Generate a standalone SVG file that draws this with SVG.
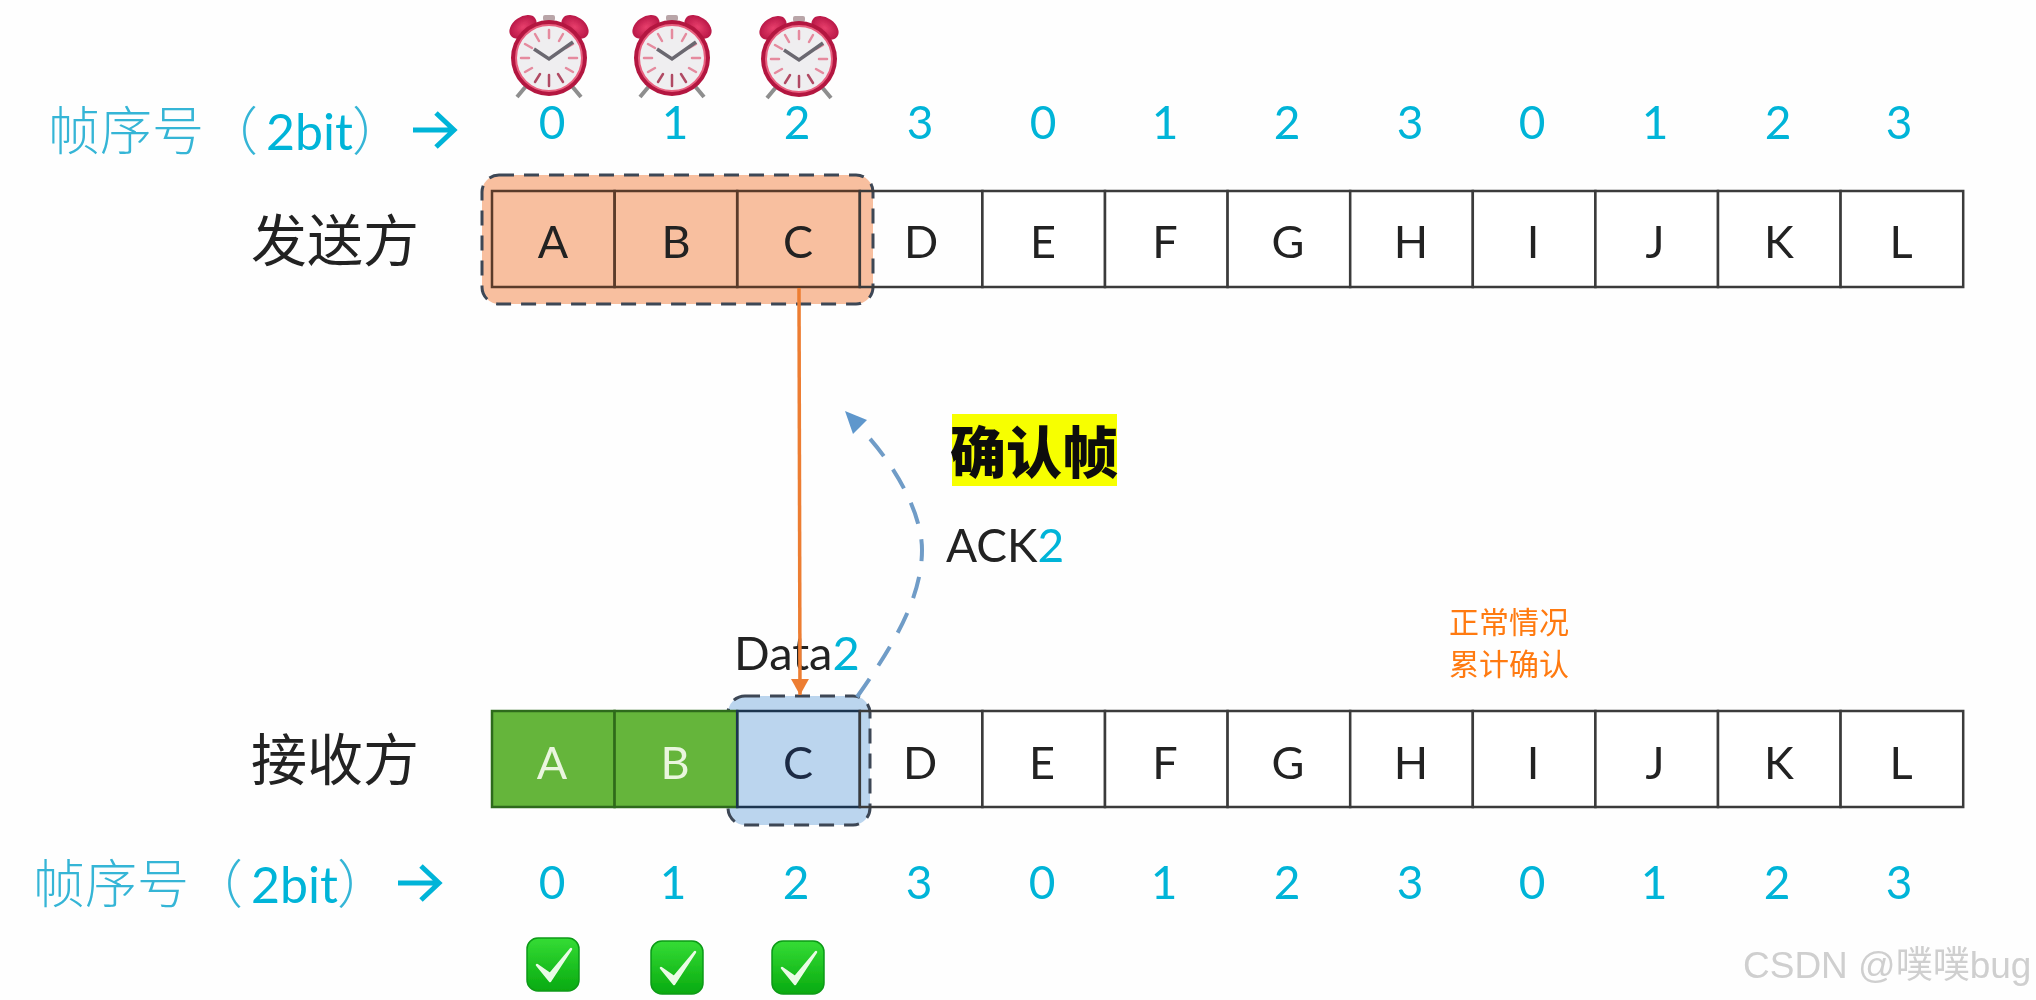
<svg xmlns="http://www.w3.org/2000/svg" xmlns:xlink="http://www.w3.org/1999/xlink" width="2036" height="1000" viewBox="0 0 2036 1000">
<style>
text{font-family:Lato,"Noto Sans CJK SC",sans-serif}
.cell{fill:#fff;stroke:#3a3a3a;stroke-width:2.5}
.clear{fill:none}
.green{fill:#65b53a;stroke:#2f6b1c}
.blue{fill:none;stroke:#1f3450}
.cellNone{fill:none;stroke:#5a3a2a}
.l{font-size:45px;fill:#222;text-anchor:middle}
.w{fill:#eaf6de}
.n{font-size:46px;fill:#00b4d8;text-anchor:middle}
.cjk{font-family:"Noto Sans CJK SC",sans-serif}
.seq{font-size:52px;fill:#35b5d6;font-weight:300}
.bit{font-family:Lato,sans-serif;font-size:50px;font-weight:400;fill:#00b4d8}
.side{font-size:56px;fill:#222}
.win{stroke:#3c4655;stroke-width:3;stroke-dasharray:15 10}
.lab{font-size:47px;fill:#222}
.c2{fill:#00b4d8}
.tick{stroke-width:2.5;stroke-linecap:round}
</style>
<defs>
<filter id="soft" x="-2%" y="-2%" width="104%" height="104%"><feGaussianBlur stdDeviation="0.6"/></filter>
<linearGradient id="gg" x1="0" y1="0" x2="0" y2="1"><stop offset="0" stop-color="#35dc35"/><stop offset="1" stop-color="#08aa10"/></linearGradient>
<radialGradient id="bell" cx=".5" cy=".5" r=".6"><stop offset="0" stop-color="#e83f6c"/><stop offset="1" stop-color="#b01040"/></radialGradient>
<marker id="ah" viewBox="0 0 16 18" refX="16" refY="9" markerWidth="16" markerHeight="18" markerUnits="userSpaceOnUse" orient="auto"><path d="M0 0L16 9L0 18Z" fill="#ed7d31"/></marker>
<g id="clock">
<path d="M-22 27L-32 39M22 27L32 39" stroke="#8e8e8e" stroke-width="4"/>
<rect x="-6" y="-43" width="12" height="6" rx="2" fill="#b9a5a8"/>
<ellipse cx="-26" cy="-31" rx="15" ry="10" transform="rotate(-35 -26 -31)" fill="url(#bell)"/>
<ellipse cx="26" cy="-31" rx="15" ry="10" transform="rotate(35 26 -31)" fill="url(#bell)"/>
<circle r="38" fill="#b3163f"/>
<circle r="33" fill="#efeef0" stroke="#e8607f" stroke-width="2"/>
<g class="tick" stroke="#e58a9e">
<path d="M0 -28V-20M14 -24L10 -17M24 -14L17 -10M28 0H20M24 14L17 10M-14 -24L-10 -17M-24 -14L-17 -10M-28 0H-20M-24 14L-17 10"/>
</g>
<g class="tick" stroke="#b04a63"><path d="M0 28V17M14 24L9 16M-14 24L-9 16"/></g>
<path d="M-15 -9L0 1L24 -16" fill="none" stroke="#6b6770" stroke-width="3.5"/>
</g>
<g id="check">
<rect x="0" y="0" width="52" height="53" rx="11" fill="url(#gg)" stroke="#0a9a18" stroke-width="1.5"/>
<path d="M10 27L23 43L44 11L23 36Z" fill="#eafbe6" stroke="#eafbe6" stroke-width="2.5" stroke-linejoin="round"/>
</g>
</defs>
<rect width="2036" height="1000" fill="#fefefe"/>
<g filter="url(#soft)">
<g id="clocks">
<use href="#clock" x="549" y="58"/>
<use href="#clock" x="672" y="58"/>
<use href="#clock" x="799" y="59"/>
</g>

<g id="sender-seq-label">
<text class="cjk seq" x="48" y="150">帧序号<tspan x="206">（</tspan><tspan class="bit" x="266">2bit</tspan><tspan x="352">）</tspan></text>
<path d="M413 130H453M436 113L454 130L436 147" fill="none" stroke="#00b4d8" stroke-width="5"/>
</g>
<g id="sender-numbers">
<text class="n" x="552" y="139">0</text><text class="n" x="675" y="139">1</text><text class="n" x="797" y="139">2</text><text class="n" x="920" y="139">3</text><text class="n" x="1043" y="139">0</text><text class="n" x="1165" y="139">1</text><text class="n" x="1287" y="139">2</text><text class="n" x="1410" y="139">3</text><text class="n" x="1532" y="139">0</text><text class="n" x="1655" y="139">1</text><text class="n" x="1778" y="139">2</text><text class="n" x="1899" y="139">3</text>
</g>
<g id="sender-label"><text class="cjk side" x="251" y="261">发送方</text></g>

<g id="sender-window"><rect class="win" x="482" y="175" width="391" height="129" rx="17" fill="#f8bf9f"/></g>
<g id="sender-row">
<g id="s-A"><rect class="cell cellNone" x="492" y="191" width="122.6" height="96"/><text class="l" x="553" y="258">A</text></g>
<g id="s-B"><rect class="cell cellNone" x="614.6" y="191" width="122.6" height="96"/><text class="l" x="676" y="258">B</text></g>
<g id="s-C"><rect class="cell cellNone" x="737.2" y="191" width="122.6" height="96"/><text class="l" x="798" y="258">C</text></g>
<g id="s-D"><rect class="cell clear" x="859.8" y="191" width="122.6" height="96"/><text class="l" x="921" y="258">D</text></g>
<g id="s-E"><rect class="cell" x="982.4" y="191" width="122.6" height="96"/><text class="l" x="1043" y="258">E</text></g>
<g id="s-F"><rect class="cell" x="1105" y="191" width="122.6" height="96"/><text class="l" x="1165" y="258">F</text></g>
<g id="s-G"><rect class="cell" x="1227.6" y="191" width="122.6" height="96"/><text class="l" x="1288" y="258">G</text></g>
<g id="s-H"><rect class="cell" x="1350.2" y="191" width="122.6" height="96"/><text class="l" x="1411" y="258">H</text></g>
<g id="s-I"><rect class="cell" x="1472.8" y="191" width="122.6" height="96"/><text class="l" x="1533" y="258">I</text></g>
<g id="s-J"><rect class="cell" x="1595.4" y="191" width="122.6" height="96"/><text class="l" x="1655" y="258">J</text></g>
<g id="s-K"><rect class="cell" x="1718" y="191" width="122.6" height="96"/><text class="l" x="1779" y="258">K</text></g>
<g id="s-L"><rect class="cell" x="1840.6" y="191" width="122.6" height="96"/><text class="l" x="1901" y="258">L</text></g>
</g>

<g id="ack-highlight">
<rect x="952" y="414" width="165" height="72" fill="#f7ff00"/>
<text class="cjk" x="950" y="473" font-size="56" font-weight="900" fill="#111">确认帧</text>
</g>
<g id="ack-label"><text class="lab" x="946" y="562" style="font-size:46px">ACK<tspan class="c2">2</tspan></text></g>
<g id="data-label"><text class="lab" x="734" y="670">Data<tspan class="c2">2</tspan></text></g>

<g id="receiver-window"><rect class="win" x="728" y="696" width="142" height="129" rx="17" fill="#bbd5ee"/></g>
<g id="receiver-row">
<g id="r-A"><rect class="cell green" x="492" y="711" width="122.6" height="96"/><text class="l w" x="552" y="779">A</text></g>
<g id="r-B"><rect class="cell green" x="614.6" y="711" width="122.6" height="96"/><text class="l w" x="675" y="779">B</text></g>
<g id="r-C"><rect class="cell blue" x="737.2" y="711" width="122.6" height="96"/><text class="l" x="798" y="779" style="fill:#1c2c44">C</text></g>
<g id="r-D"><rect class="cell clear" x="859.8" y="711" width="122.6" height="96"/><text class="l" x="920" y="779">D</text></g>
<g id="r-E"><rect class="cell" x="982.4" y="711" width="122.6" height="96"/><text class="l" x="1042" y="779">E</text></g>
<g id="r-F"><rect class="cell" x="1105" y="711" width="122.6" height="96"/><text class="l" x="1165" y="779">F</text></g>
<g id="r-G"><rect class="cell" x="1227.6" y="711" width="122.6" height="96"/><text class="l" x="1288" y="779">G</text></g>
<g id="r-H"><rect class="cell" x="1350.2" y="711" width="122.6" height="96"/><text class="l" x="1411" y="779">H</text></g>
<g id="r-I"><rect class="cell" x="1472.8" y="711" width="122.6" height="96"/><text class="l" x="1533" y="779">I</text></g>
<g id="r-J"><rect class="cell" x="1595.4" y="711" width="122.6" height="96"/><text class="l" x="1655" y="779">J</text></g>
<g id="r-K"><rect class="cell" x="1718" y="711" width="122.6" height="96"/><text class="l" x="1779" y="779">K</text></g>
<g id="r-L"><rect class="cell" x="1840.6" y="711" width="122.6" height="96"/><text class="l" x="1901" y="779">L</text></g>
</g>

<g id="connectors">
<path d="M799 288L800 695" fill="none" stroke="#ed7d31" stroke-width="3.5" marker-end="url(#ah)"/>
<path d="M857 697C890 650 922 600 922 550C922 510 890 455 850 418" fill="none" stroke="#6f9cc7" stroke-width="4" stroke-dasharray="22 16"/>
<path d="M845 411L867 420L853 434Z" fill="#5f97cc"/>
</g>

<g id="receiver-label"><text class="cjk side" x="251" y="780">接收方</text></g>
<g id="receiver-seq-label">
<text class="cjk seq" x="33" y="903">帧序号<tspan x="191">（</tspan><tspan class="bit" x="251">2bit</tspan><tspan x="337">）</tspan></text>
<path d="M398 883H438M421 866L439 883L421 900" fill="none" stroke="#00b4d8" stroke-width="5"/>
</g>
<g id="receiver-numbers">
<text class="n" x="552" y="899">0</text><text class="n" x="673" y="899">1</text><text class="n" x="796" y="899">2</text><text class="n" x="919" y="899">3</text><text class="n" x="1042" y="899">0</text><text class="n" x="1164" y="899">1</text><text class="n" x="1287" y="899">2</text><text class="n" x="1410" y="899">3</text><text class="n" x="1532" y="899">0</text><text class="n" x="1654" y="899">1</text><text class="n" x="1777" y="899">2</text><text class="n" x="1899" y="899">3</text>
</g>
<g id="checks">
<use href="#check" x="527" y="938"/>
<use href="#check" x="651" y="941"/>
<use href="#check" x="772" y="941"/>
</g>
</g>
<g id="note" font-size="30" fill="#ff7a10">
<text class="cjk" x="1449" y="633">正常情况</text>
<text class="cjk" x="1449" y="675">累计确认</text>
</g>
<g id="watermark"><text x="1743" y="978" font-size="37" style="font-family:'Liberation Sans','Noto Sans CJK SC',sans-serif" fill="#cfcfcf">CSDN @噗噗bug</text></g>
</svg>
